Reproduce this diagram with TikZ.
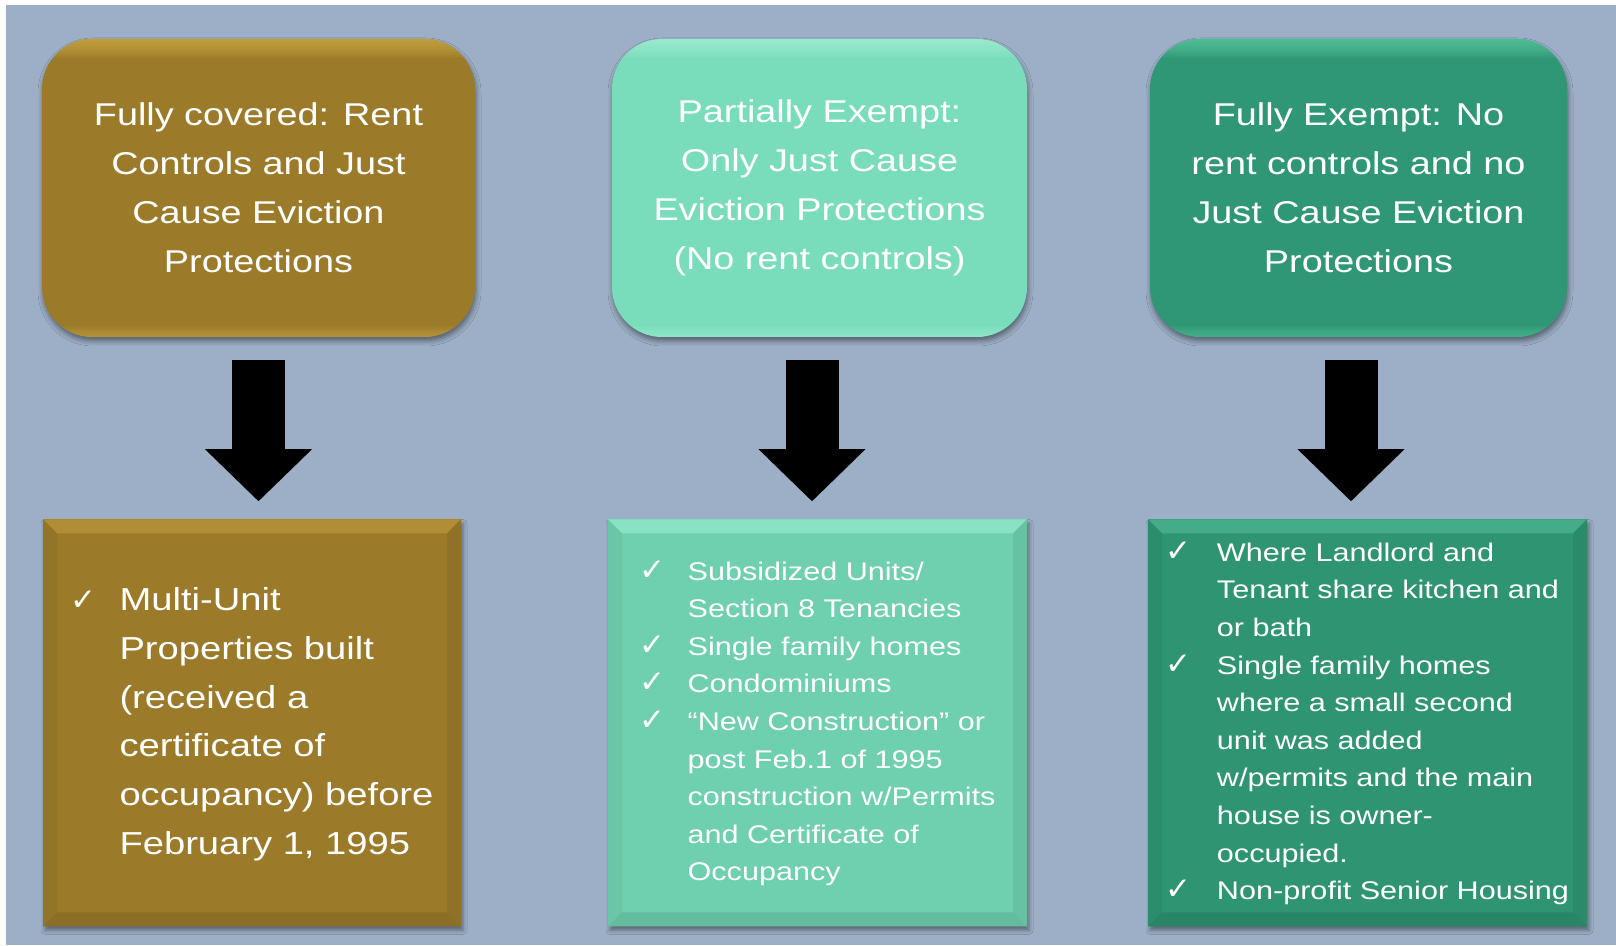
\documentclass[tikz,border=0pt]{standalone}
\usepackage{fontspec}
\setmainfont{Liberation Sans}[FakeStretch=1.2]
\newfontfamily\tickfont{DejaVu Sans}
\usetikzlibrary{arrows.meta, positioning, shadows.blur}

\definecolor{pageBlue}{HTML}{9CAFC6}
\definecolor{goldMain}{HTML}{9B7B2A}
\definecolor{goldGlow}{HTML}{E0BC52}
\definecolor{goldBevel}{HTML}{B08E36}
\definecolor{tealMain}{HTML}{79DDBC}
\definecolor{tealGlow}{HTML}{B4F6E0}
\definecolor{tealList}{HTML}{6FD0AF}
\definecolor{tealBevel}{HTML}{8AE2C5}
\definecolor{greenMain}{HTML}{2F9775}
\definecolor{greenGlow}{HTML}{6ADCB0}
\definecolor{greenList}{HTML}{2E9472}
\definecolor{greenBevel}{HTML}{44AC86}

\newcommand{\tick}{\smash{\tickfont\fontsize{31}{31}\selectfont ✓}}
\newcommand{\headfont}{\fontsize{31.5}{49}\selectfont}
\newcommand{\listbig}{\fontsize{31.8}{48.7}\selectfont}
\newcommand{\listsmall}{\fontsize{25.5}{37.6}\selectfont}

\tikzset{
    % rounded headline boxes with a soft glow on the rims
    headbox/.style 2 args={
        rectangle,
        rounded corners=50pt,
        minimum height=298pt,
        inner sep=0pt,
        fill=#1,
        text=white,
        align=center,
        font=\headfont,
        blur shadow={
            shadow xshift=1pt,
            shadow yshift=-4pt,
            shadow blur radius=5pt,
            shadow opacity=45
        },
        path picture={
            \path (path picture bounding box.north west) coordinate (nw)
                  (path picture bounding box.south east) coordinate (se);
            \foreach \i in {1,...,12}
                \fill[sharp corners, #2, opacity=0.07]
                    (nw) rectangle ([yshift=-\i*1.6pt]nw -| se);
            \foreach \i in {1,...,8}
                \fill[sharp corners, #2, opacity=0.06]
                    (se) rectangle ([yshift=\i*1.4pt]se -| nw);
        },
    },
    % square list boxes with a bevelled frame
    listbox/.style 2 args={
        rectangle,
        minimum height=407pt,
        inner sep=0pt,
        fill=#1,
        text=white,
        blur shadow={
            shadow xshift=2pt,
            shadow yshift=-4pt,
            shadow blur radius=4pt,
            shadow opacity=40
        },
        path picture={
            \path (path picture bounding box.north west) coordinate (nw)
                  (path picture bounding box.north east) coordinate (ne)
                  (path picture bounding box.south west) coordinate (sw)
                  (path picture bounding box.south east) coordinate (se);
            \fill[#2] (nw) -- (ne) -- ([shift={(-14,-14)}]ne) -- ([shift={(14,-14)}]nw) -- cycle;
            \fill[#1!95!black] (nw) -- ([shift={(14,-14)}]nw) -- ([shift={(14,14)}]sw) -- (sw) -- cycle;
            \fill[#1!93!black] (ne) -- ([shift={(-14,-14)}]ne) -- ([shift={(-14,14)}]se) -- (se) -- cycle;
            \fill[#1!90!black] (sw) -- ([shift={(14,14)}]sw) -- ([shift={(-14,14)}]se) -- (se) -- cycle;
        },
    },
    % fat black arrow between the rows
    downarrow/.style={
        draw=black,
        line width=53pt,
        -{Triangle[length=52pt, width=107pt, line width=0pt]},
        shorten <=23pt,
        shorten >=18pt,
    },
}

\begin{document}
\begin{tikzpicture}[x=1pt, y=1pt]
    \useasboundingbox (0,0) rectangle (1616,945);
    \fill[white] (0,0) rectangle (1616,945);
    \fill[pageBlue] (6,0) rectangle (1616,940);

    % headline row
    \node (fullHead) [headbox={goldMain}{goldGlow}, minimum width=433pt] at (258.5,757)
        {Fully covered: Rent\\Controls and Just\\Cause Eviction\\Protections};
    \node (partHead) [headbox={tealMain}{tealGlow}, minimum width=415pt] at (819.5,757)
        {Partially Exempt:\\Only Just Cause\\Eviction Protections\\(No rent controls)};
    \node (noneHead) [headbox={greenMain}{greenGlow}, minimum width=417pt] at (1358.5,757)
        {Fully Exempt: No\\rent controls and no\\Just Cause Eviction\\Protections};

    % lists underneath
    \node (fullList) [listbox={goldMain}{goldBevel}, minimum width=418pt,
                      below=182pt of fullHead, xshift=-6.5pt, font=\listbig] {%
        \begin{tabular}{@{}p{49pt}@{}l@{}}
            \tick & Multi-Unit\\
                  & Properties built\\
                  & (received a\\
                  & certificate of\\
                  & occupancy) before\\
                  & February 1, 1995
        \end{tabular}};
    \node (partList) [listbox={tealList}{tealBevel}, minimum width=419pt,
                      below=182pt of partHead, xshift=-2pt, font=\listsmall] {%
        \begin{tabular}{@{}p{48pt}@{}l@{}}
            \tick & Subsidized Units/\\
                  & Section 8 Tenancies\\
            \tick & Single family homes\\
            \tick & Condominiums\\
            \tick & “New Construction” or\\
                  & post Feb.1 of 1995\\
                  & construction w/Permits\\
                  & and Certificate of\\
                  & Occupancy
        \end{tabular}};
    \node (noneList) [listbox={greenList}{greenBevel}, minimum width=439pt,
                      below=182pt of noneHead, xshift=9pt, font=\listsmall] {%
        \begin{tabular}{@{}p{51pt}@{}l@{}}
            \tick & Where Landlord and\\
                  & Tenant share kitchen and\\
                  & or bath\\
            \tick & Single family homes\\
                  & where a small second\\
                  & unit was added\\
                  & w/permits and the main\\
                  & house is owner-\\
                  & occupied.\\
            \tick & Non-profit Senior Housing
        \end{tabular}};

    % arrows
    \coordinate (fullTail) at (fullHead.south);
    \coordinate (partTail) at ([xshift=-7.5pt]partHead.south);
    \coordinate (noneTail) at ([xshift=-7.5pt]noneHead.south);
    \draw [downarrow] (fullTail) -- (fullTail |- fullList.north);
    \draw [downarrow] (partTail) -- (partTail |- partList.north);
    \draw [downarrow] (noneTail) -- (noneTail |- noneList.north);
\end{tikzpicture}
\end{document}
